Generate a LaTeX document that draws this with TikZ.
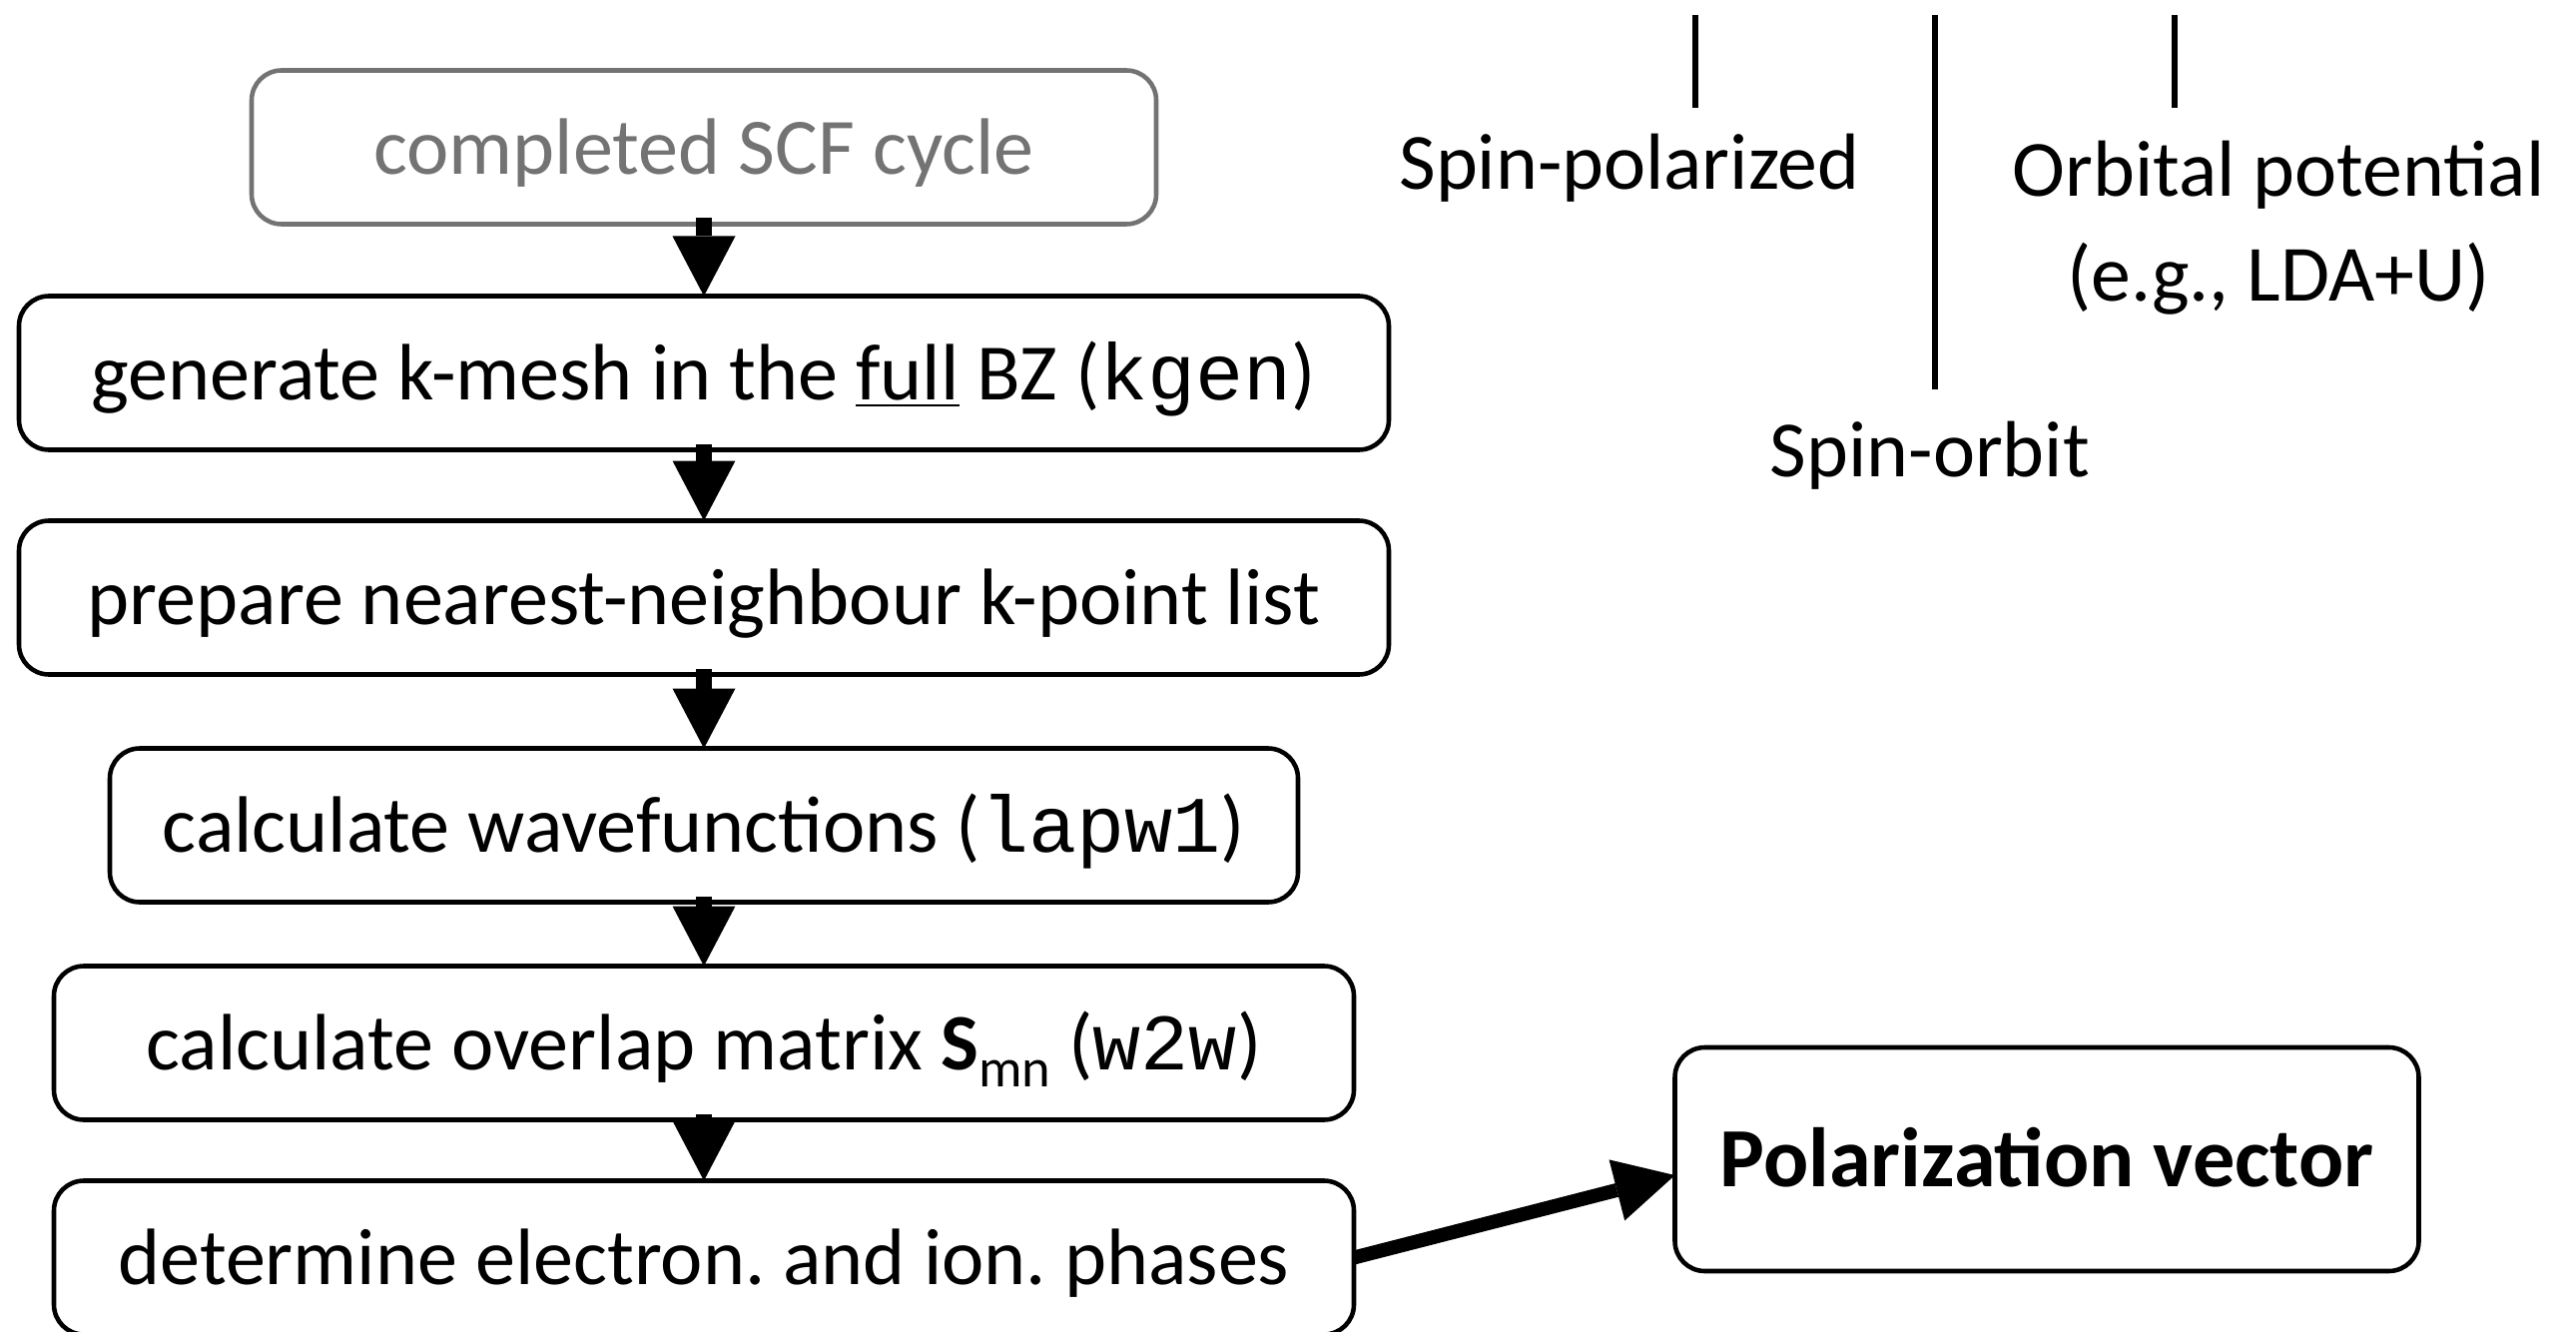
\documentclass[tikz,border=0pt]{standalone}
\usepackage{fontspec}
\setmainfont{Carlito}
\setmonofont{Liberation Mono}
\usetikzlibrary{
	arrows.meta,
	positioning
}

\begin{document}
\begin{tikzpicture}[
		stepbox/.style={draw, rounded corners=0.3cm, line width=1.3pt, outer sep=0pt, inner sep=0pt, minimum height=1.54cm, text height=0.72cm, text depth=0.18cm, font=\fontsize{22.8}{27}\selectfont},
		startbox/.style={stepbox, draw=black!55, text=black!55},
		resultbox/.style={stepbox, minimum width=7.45cm, minimum height=2.24cm, font=\fontsize{24}{28}\selectfont\bfseries},
		flow/.style={-{Triangle[length=0.6cm, width=0.63cm, line width=0pt]}, line width=0.16cm},
		note/.style={align=center, font=\fontsize{22.7}{30}\selectfont, anchor=base},
		sepline/.style={line width=1.6pt}
		]
		\useasboundingbox (0,0) rectangle (25.8,-13.34);
		
		% =========================
		% Berry phase workflow
		% =========================
		\node[startbox, minimum width=9.06cm] (scf) at (7.05,-1.475) {completed SCF cycle};
		\node[stepbox, minimum width=13.72cm, below=0.72cm of scf] (kgen) {generate k-mesh in the \underline{full} BZ (\texttt{kgen})};
		\node[stepbox, minimum width=13.72cm, below=0.71cm of kgen] (nnkp) {prepare nearest-neighbour k-point list};
		\node[stepbox, minimum width=11.9cm, below=0.74cm of nnkp] (lapw) {calculate wavefunctions (\texttt{lapw1})};
		\node[stepbox, minimum width=13.02cm, below=0.64cm of lapw] (wtw) {calculate overlap matrix \textbf{S}\raisebox{-0.45ex}{\fontsize{15.5}{15.5}\selectfont mn} (\texttt{w2w})};
		\node[stepbox, minimum width=13.02cm, below=0.61cm of wtw] (phase) {determine electron.\ and ion.\ phases};
		
		% result
		\node[resultbox] (pol) at (20.5,-11.61) {Polarization vector};
		
		% =========================
		% Options: spin / SO / orbital potential
		% =========================
		\node[note] (spinpol) at (16.32,-1.90) {Spin-polarized};
		\node[note] (orbpot) at (22.82,-3.02) {Orbital potential\\(e.g., LDA+U)};
		\node[note] (spinorb) at (19.33,-4.77) {Spin-orbit};
		
		\coordinate (sptop) at (16.98,-0.15);
		\coordinate (spbot) at (16.98,-1.08);
		\coordinate (sotop) at (19.38,-0.15);
		\coordinate (sobot) at (19.38,-3.90);
		\coordinate (optop) at (21.78,-0.15);
		\coordinate (opbot) at (21.78,-1.08);
		
		\draw[sepline] (sptop) -- (spbot);
		\draw[sepline] (sotop) -- (sobot);
		\draw[sepline] (optop) -- (opbot);
		
		% =========================
		% Arrows
		% =========================
		\draw[flow] ([yshift=0.06cm]scf.south) -- (kgen);
		\draw[flow] ([yshift=0.06cm]kgen.south) -- (nnkp);
		\draw[flow] ([yshift=0.06cm]nnkp.south) -- (lapw);
		\draw[flow] ([yshift=0.06cm]lapw.south) -- (wtw);
		\draw[flow] ([yshift=0.06cm]wtw.south) -- (phase);
		
		\draw[flow, line width=0.14cm] (phase.east) -- ([yshift=-0.16cm]pol.west);
		
	\end{tikzpicture}
\end{document}
